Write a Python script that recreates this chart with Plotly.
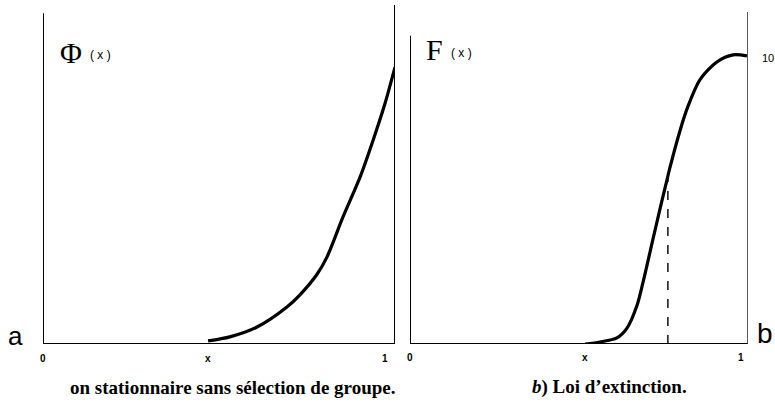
import plotly.graph_objects as go

# ---- data (normalised: x from 0 to 1 along each panel, y from 0 to 1) ----
phi_x = [0.469, 0.531, 0.608, 0.693, 0.730, 0.778, 0.807, 0.852, 0.901, 0.938, 0.972, 1.0]
phi_y = [0.009, 0.021, 0.050, 0.109, 0.145, 0.205, 0.257, 0.374, 0.493, 0.602, 0.711, 0.817]

f_x = [0.518, 0.562, 0.612, 0.642, 0.672, 0.689, 0.719, 0.740, 0.760, 0.769, 0.799, 0.822, 0.858, 0.908, 0.956, 0.997]
f_y = [0.000, 0.006, 0.018, 0.047, 0.115, 0.180, 0.310, 0.400, 0.483, 0.520, 0.630, 0.700, 0.780, 0.832, 0.853, 0.850]

dash_x = [0.763, 0.763]
dash_y = [0.0, 0.49]

left_tick_vals = [0.0, 0.469, 0.972]
right_tick_vals = [0.0, 0.518, 0.98]
tick_text = ["0", "x", "1"]

W, H = 775, 411


def px(xp):
    return xp / W


def py(yp):
    return 1 - yp / H


fig = go.Figure()

fig.add_trace(go.Scatter(x=phi_x, y=phi_y, mode="lines", line=dict(color="black", width=3.2, shape="spline", smoothing=0.8),
                         xaxis="x", yaxis="y", showlegend=False, hoverinfo="skip"))
fig.add_trace(go.Scatter(x=f_x, y=f_y, mode="lines", line=dict(color="black", width=3.2, shape="spline", smoothing=0.8),
                         xaxis="x2", yaxis="y2", showlegend=False, hoverinfo="skip"))
fig.add_trace(go.Scatter(x=dash_x, y=dash_y, mode="lines", line=dict(color="black", width=1.4, dash="dash"),
                         xaxis="x2", yaxis="y2", showlegend=False, hoverinfo="skip"))

ydom = [py(344), py(5)]
ax = dict(visible=False, range=[0, 1], fixedrange=True)
fig.update_layout(
    width=W, height=H,
    margin=dict(l=0, r=0, t=0, b=0),
    paper_bgcolor="white", plot_bgcolor="rgba(0,0,0,0)",
    xaxis=dict(ax, domain=[px(43), px(395)], anchor="y"),
    yaxis=dict(ax, domain=ydom, anchor="x"),
    xaxis2=dict(ax, domain=[px(410), px(748)], anchor="y2"),
    yaxis2=dict(ax, domain=ydom, anchor="x2"),
)

line = dict(color="black", width=2)
shapes = [
    # left panel frame
    dict(type="line", xref="x", yref="y", x0=0, x1=0, y0=0, y1=0.976, line=line),
    dict(type="line", xref="x", yref="y", x0=0, x1=1, y0=0, y1=0, line=line),
    dict(type="line", xref="x", yref="y", x0=1, x1=1, y0=0, y1=1.0, line=line),
    # right panel frame
    dict(type="line", xref="x2", yref="y2", x0=0, x1=0, y0=0, y1=0.909, line=line),
    dict(type="line", xref="x2", yref="y2", x0=0, x1=1, y0=0, y1=0, line=line),
    dict(type="line", xref="x2", yref="y2", x0=1, x1=1, y0=0, y1=0.979, line=dict(color="#333", width=1.6)),
]
fig.update_layout(shapes=shapes)

ann = []
tick_font = dict(family="Liberation Sans", size=10, color="black")
for v, t in zip(left_tick_vals, tick_text):
    ann.append(dict(x=v, y=py(358), xref="x", yref="paper", text="<b>%s</b>" % t, font=tick_font))
for v, t in zip(right_tick_vals, tick_text):
    ann.append(dict(x=v, y=py(357), xref="x2", yref="paper", text="<b>%s</b>" % t, font=tick_font))

serif_big = dict(family="Liberation Serif", size=30, color="black")
small = dict(family="Liberation Sans", size=12, color="black")
cap_font = dict(family="Liberation Serif", size=19, color="black")
ann += [
    dict(x=px(71), y=py(52), text="Φ", font=serif_big),
    dict(x=px(101), y=py(55), text="( x )", font=small),
    dict(x=px(434), y=py(50), text="F", font=serif_big),
    dict(x=px(462), y=py(53), text="( x )", font=small),
    dict(x=px(15), y=py(336), text="a", font=dict(family="Liberation Sans", size=26, color="black")),
    dict(x=px(765), y=py(333), text="b", font=dict(family="Liberation Sans", size=28, color="black")),
    dict(x=px(760), y=py(58), text="10", xanchor="left", font=dict(family="Liberation Sans", size=11, color="black")),
    dict(x=px(398), y=py(387), xanchor="right",
         text="<b>on stationnaire sans sélection de groupe.</b>", font=cap_font),
    dict(x=px(609), y=py(387),
         text="<b><i>b</i>) Loi d’extinction.</b>", font=cap_font),
]
for a in ann:
    a.setdefault("xref", "paper")
    a.setdefault("yref", "paper")
    a.setdefault("showarrow", False)
    a.setdefault("xanchor", "center")
    a.setdefault("yanchor", "middle")
fig.update_layout(annotations=ann)

fig.write_html("out.html", config={"displayModeBar": False, "staticPlot": True},
               post_script="document.body.style.margin='0';document.body.style.overflow='hidden';")
